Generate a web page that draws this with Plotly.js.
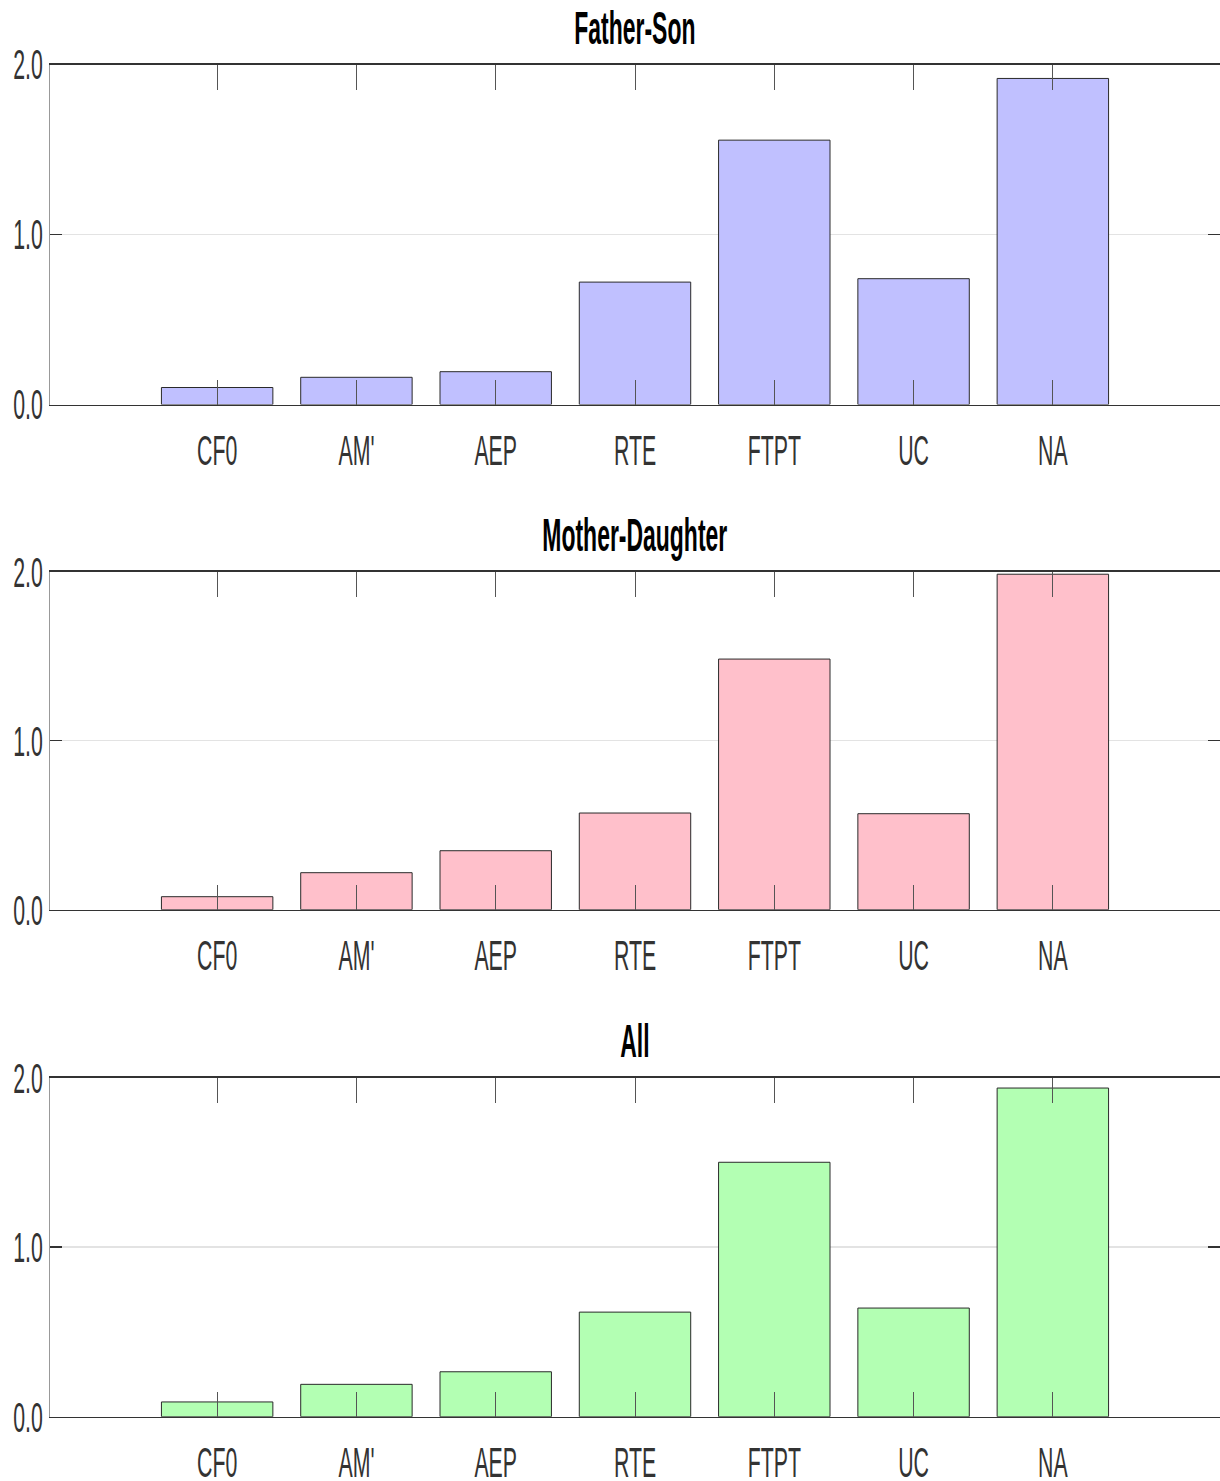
<!DOCTYPE html>
<html>
<head>
<meta charset="utf-8">
<script src="https://cdn.plot.ly/plotly-3.0.1.min.js"></script>
<style>
  html, body { margin: 0; padding: 0; background: #ffffff; }
  #chart { width: 1220px; height: 1481px; }
</style>
</head>
<body>
<div id="chart"></div>
<script>
// Categories along the x axis
const categories = ["CF0", "AM'", "AEP", "RTE", "FTPT", "UC", "NA"];

// Bar heights for each panel
const fatherSon      = [0.10, 0.16, 0.193, 0.72, 1.555, 0.74, 1.918];
const motherDaughter = [0.077, 0.219, 0.349, 0.572, 1.483, 0.568, 1.985];
const allPairs       = [0.087, 0.191, 0.265, 0.617, 1.501, 0.641, 1.939];

// Panel titles and y-axis ticks
const panelTitles = ["Father-Son", "Mother-Daughter", "All"];
const yTickVals = [0, 1, 2];
const yTickText = ["0.0", "1.0", "2.0"];

const panelData = [fatherSon, motherDaughter, allPairs];
const fills = ["#c0c0ff", "#ffc0cb", "#b3ffb3"];

const H = 1481;
// plot-area bands in pixels (top, bottom) for the three panels
const bands = [[64.5, 404.5], [571.7, 909.7], [1077.7, 1416.7]];

const fontName = "'Liberation Sans', Arial, sans-serif";

const traces = panelData.map((vals, i) => ({
  type: "bar",
  x: categories,
  y: vals,
  xaxis: i === 0 ? "x" : "x" + (i + 1),
  yaxis: i === 0 ? "y" : "y" + (i + 1),
  width: 0.8,
  marker: { color: fills[i], line: { color: "#2a2a2a", width: 1 } },
  hoverinfo: "skip",
  showlegend: false
}));

const layout = {
  width: 1220,
  height: H,
  margin: { l: 50, r: 0, t: 0, b: 0 },
  paper_bgcolor: "#ffffff",
  plot_bgcolor: "#ffffff",
  showlegend: false,
  annotations: []
};

bands.forEach((b, i) => {
  const sx = i === 0 ? "" : String(i + 1);
  layout["xaxis" + sx] = {
    type: "category",
    categoryorder: "array",
    categoryarray: categories,
    range: [-1.2, 7.2],
    anchor: "y" + sx,
    showline: true,
    linecolor: "#333333",
    linewidth: 1.5,
    mirror: "ticks",
    ticks: "inside",
    ticklen: 25,
    tickwidth: 1,
    tickcolor: "#555555",
    showgrid: false,
    zeroline: false,
    ticklabelstandoff: 22,
    tickfont: { family: fontName, size: 26, color: "#333333" },
    fixedrange: true
  };
  layout["yaxis" + sx] = {
    domain: [1 - b[1] / H, 1 - b[0] / H],
    range: [0, 2],
    anchor: "x" + sx,
    tickvals: yTickVals,
    ticktext: yTickText,
    showline: true,
    linecolor: "#999999",
    linewidth: 1,
    mirror: "ticks",
    ticks: "inside",
    ticklen: 12,
    tickwidth: 1.5,
    tickcolor: "#333333",
    showgrid: true,
    gridcolor: "#e3e3e3",
    gridwidth: 1.5,
    zeroline: false,
    ticklabelstandoff: 1,
    tickfont: { family: fontName, size: 26, color: "#333333" },
    fixedrange: true
  };
  layout.annotations.push({
    text: "<b>" + panelTitles[i] + "</b>",
    xref: "paper",
    yref: "paper",
    x: 0.5,
    y: 1 - (b[0] - 36) / H,
    xanchor: "center",
    yanchor: "middle",
    showarrow: false,
    font: { family: fontName, size: 28, color: "#000000" }
  });
});

// Tall condensed lettering: narrow each text node and stretch it vertically,
// keeping its anchor point (start / middle / end) in place
function condenseLabels(gd, kx, ky) {
  gd.querySelectorAll(".main-svg text").forEach(t => {
    const bb = t.getBBox();
    if (!bb || !bb.height) return;
    const anchor = t.getAttribute("text-anchor") || t.style.textAnchor || "start";
    let cx = bb.x + bb.width / 2;
    if (anchor === "end") cx = bb.x + bb.width;
    else if (anchor === "start") cx = bb.x;
    const cy = bb.y + bb.height / 2;
    const prev = t.getAttribute("transform") || "";
    t.setAttribute("transform",
      (prev + " translate(" + cx + "," + cy + ") scale(" + kx + "," + ky + ") translate(" + (-cx) + "," + (-cy) + ")").trim());
  });
}

Plotly.newPlot("chart", traces, layout, { staticPlot: true, responsive: false })
  .then(gd => condenseLabels(gd, 0.82, 1.65));
</script>
</body>
</html>
